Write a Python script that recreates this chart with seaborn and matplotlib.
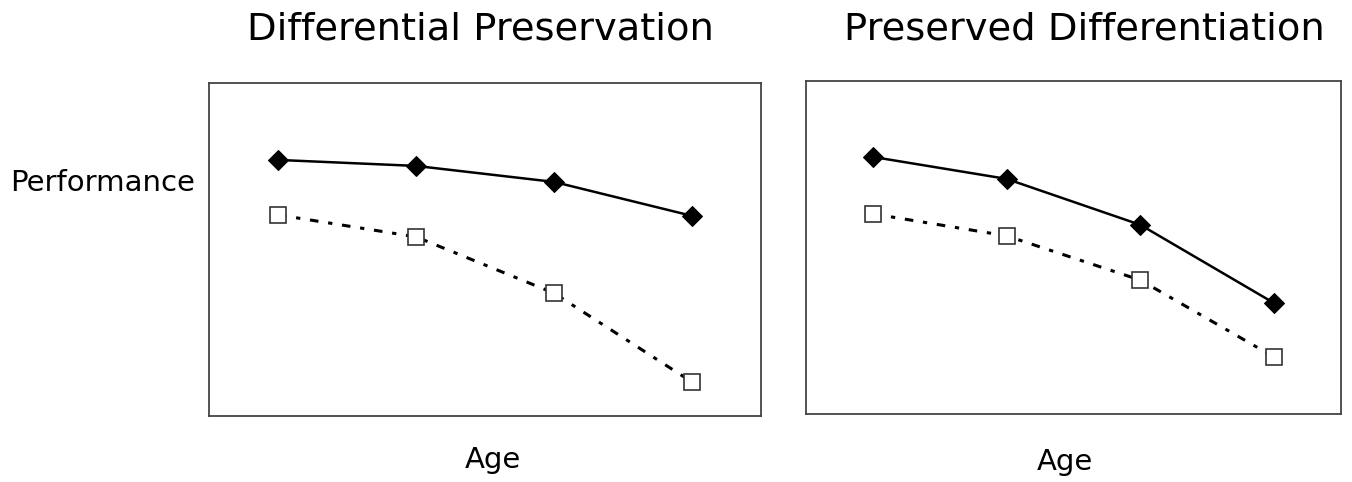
import seaborn as sns
import matplotlib.pyplot as plt
import pandas as pd

# values (0-100 scale, age groups 1..4)
age = [1, 2, 3, 4]
diff_pres_solid = [76.9, 75.1, 70.3, 60.1]
diff_pres_dashed = [60.4, 53.8, 36.9, 10.2]
pres_diff_solid = [77.2, 70.6, 56.8, 33.3]
pres_diff_dashed = [60.1, 53.5, 40.2, 17.1]

titles = ["Differential Preservation", "Preserved Differentiation"]

sns.set_style("white")
plt.rcParams['font.family'] = ['DejaVu Sans']

fig = plt.figure(figsize=(13.52, 4.82), dpi=100)
ax1 = fig.add_axes([209/1352, 1-416/482, 552/1352, 333/482])
ax2 = fig.add_axes([806/1352, 1-414/482, 535/1352, 333/482])

dash = (0, (2.8, 3.2, 1.4, 3.2))

for ax, solid, dashed in [(ax1, diff_pres_solid, diff_pres_dashed),
                          (ax2, pres_diff_solid, pres_diff_dashed)]:
    df = pd.DataFrame({'age': age, 'solid': solid, 'dashed': dashed})
    sns.lineplot(data=df, x='age', y='dashed', ax=ax, color='black', lw=2.2,
                 linestyle=dash, marker='s', markersize=11, markerfacecolor='white',
                 markeredgecolor='#333333', markeredgewidth=1.2)
    sns.lineplot(data=df, x='age', y='solid', ax=ax, color='black', lw=1.8,
                 marker='D', markersize=10, markerfacecolor='black', markeredgecolor='black')
    ax.set_xlim(0.5, 4.5)
    ax.set_ylim(0, 100)
    ax.set_xticks([])
    ax.set_yticks([])
    ax.set_xlabel('')
    ax.set_ylabel('')
    for s in ax.spines.values():
        s.set_color('#444444')
        s.set_linewidth(1.3)

fig.text(480/1352, 1-30/482, titles[0], ha='center', va='center', fontsize=27.7, color='black')
fig.text(1084/1352, 1-30/482, titles[1], ha='center', va='center', fontsize=27.7, color='black')
fig.text(10/1352, 1-183/482, "Performance", ha='left', va='center', fontsize=21, color='black')
fig.text(493/1352, 1-460/482, "Age", ha='center', va='center', fontsize=21, color='black')
fig.text(1065/1352, 1-462/482, "Age", ha='center', va='center', fontsize=21, color='black')

fig.savefig("out.png", dpi=100)
